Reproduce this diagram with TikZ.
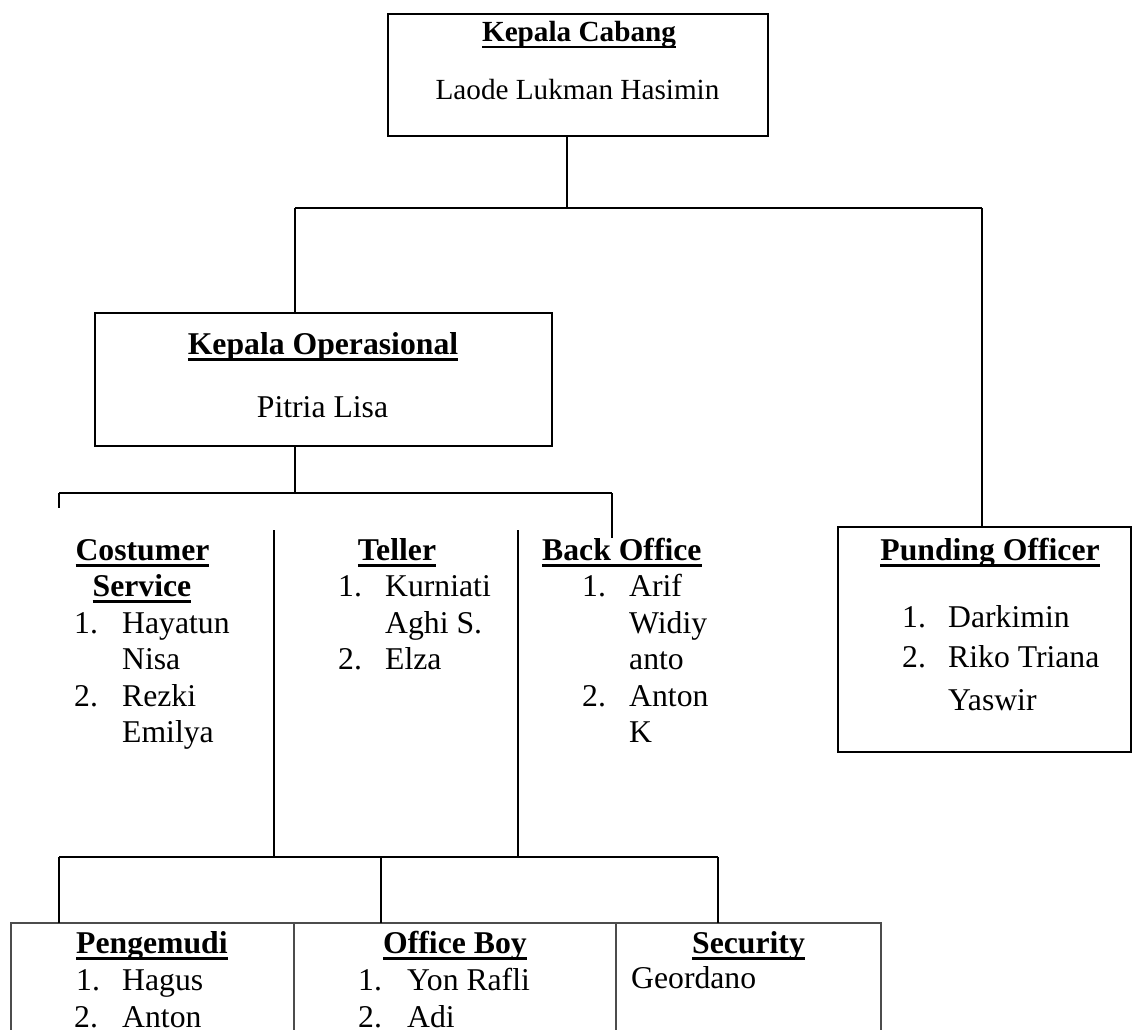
\documentclass[tikz,border=0pt]{standalone}
\usepackage{fontspec}
\setmainfont{Liberation Serif}
\newsavebox\ulbox
\newcommand\ulbf[1]{\sbox\ulbox{\bfseries #1}\rlap{\rule[-6.5pt]{\wd\ulbox}{2.4pt}}\usebox\ulbox}
\newcommand\fbig{\fontsize{31.7}{36}\selectfont}
\newcommand\ftop{\fontsize{29.2}{34}\selectfont}
\begin{document}
\begin{tikzpicture}[x=1pt,y=-1pt,
  box/.style={draw=black,line width=1.6pt,inner sep=0,rectangle},
  conn/.style={draw=black,line width=1.8pt},
  tbl/.style={draw=black!70,line width=1.2pt},
  ttl/.style={inner sep=0,anchor=base,font=\fbig},
  tw/.style={inner sep=0,anchor=base west,font=\fbig},
  tt/.style={inner sep=0,anchor=base,font=\ftop}]
\useasboundingbox (0,0) rectangle (1133,1030);
% boxes
\node[box,minimum width=380pt,minimum height=122pt] (kc) at (578,75) {};
\node[box,minimum width=457pt,minimum height=133pt] (ko) at (323.5,379.5) {};
\node[box,minimum width=293pt,minimum height=225pt] (po) at (984.5,639.5) {};
% top box texts
\node[tt] (kct) at (579,42) {\ulbf{Kepala Cabang}};
\node[tt] (kcn) at (577.5,100) {Laode Lukman Hasimin};
\node[ttl] (kot) at (323,354) {\ulbf{Kepala Operasional}};
\node[ttl] (kon) at (322.5,417) {Pitria Lisa};
% Punding Officer
\node[ttl] (pot) at (990,560) {\ulbf{Punding Officer}};
\node[tw] (po1) at (902,627) {1.};
\node[tw] (po1n) at (948,627) {Darkimin};
\node[tw] (po2) at (902,667) {2.};
\node[tw] (po2n) at (948,667) {Riko Triana};
\node[tw] (po2m) at (948,710) {Yaswir};
% Costumer Service
\node[ttl] (cst) at (142.5,560) {\ulbf{Costumer}};
\node[ttl] (cst2) at (142,596) {\ulbf{Service}};
\node[tw] (cs1) at (74,633) {1.};
\node[tw] (cs1n) at (122,633) {Hayatun};
\node[tw] (cs1m) at (122,669) {Nisa};
\node[tw] (cs2) at (74,706) {2.};
\node[tw] (cs2n) at (122,706) {Rezki};
\node[tw] (cs2m) at (122,742) {Emilya};
% Teller
\node[ttl] (tlt) at (397,560) {\ulbf{Teller}};
\node[tw] (tl1) at (338,596) {1.};
\node[tw] (tl1n) at (385,596) {Kurniati};
\node[tw] (tl1m) at (385,633) {Aghi S.};
\node[tw] (tl2) at (338,669) {2.};
\node[tw] (tl2n) at (385,669) {Elza};
% Back Office
\node[tw] (bot) at (542,560) {\ulbf{Back Office}};
\node[tw] (bo1) at (582,596) {1.};
\node[tw] (bo1n) at (629,596) {Arif};
\node[tw] (bo1m) at (629,633) {Widiy};
\node[tw] (bo1k) at (629,669) {anto};
\node[tw] (bo2) at (582,706) {2.};
\node[tw] (bo2n) at (629,706) {Anton};
\node[tw] (bo2m) at (629,742) {K};
% bottom table
\node[tw] (pgt) at (76,953) {\ulbf{Pengemudi}};
\node[tw] (pg1) at (76,990) {1.};
\node[tw] (pg1n) at (122,990) {Hagus};
\node[tw] (pg2) at (74,1027) {2.};
\node[tw] (pg2n) at (122,1027) {Anton};
\node[tw] (obt) at (383,953) {\ulbf{Office Boy}};
\node[tw] (ob1) at (358,990) {1.};
\node[tw] (ob1n) at (407,990) {Yon Rafli};
\node[tw] (ob2) at (358,1027) {2.};
\node[tw] (ob2n) at (407,1027) {Adi};
\node[tw] (sct) at (692,953) {\ulbf{Security}};
\node[tw] (scn) at (631,988) {Geordano};
% table frame
\coordinate (tl) at (11,923);
\coordinate (tr) at (881,923);
\coordinate (d1) at (294,923);
\coordinate (d2) at (616,923);
\draw[tbl] (11,1031) -- (tl) -- (tr) -- (881,1031);
\draw[tbl] (d1) -- (294,1031);
\draw[tbl] (d2) -- (616,1031);
% connectors
\coordinate (j0) at (567,208);
\coordinate (jl) at (295,208);
\coordinate (jr) at (982,208);
\draw[conn] (j0 |- kc.south) -- (j0);
\draw[conn] (jl) -- (jr);
\draw[conn] (jl) -- (jl |- ko.north);
\draw[conn] (jr) -- (jr |- po.north);
\coordinate (k0) at (295,493);
\coordinate (kl) at (59,493);
\coordinate (kr) at (612,493);
\coordinate (klend) at (59,508);
\coordinate (krend) at (612,538);
\draw[conn] (k0 |- ko.south) -- (k0);
\draw[conn] (kl) -- (kr);
\draw[conn] (kl) -- (klend);
\draw[conn] (kr) -- (krend);
% dividers
\coordinate (v1t) at (274,530);
\coordinate (v2t) at (518,530);
\coordinate (m1) at (274,857);
\coordinate (m2) at (518,857);
\draw[conn] (v1t) -- (m1);
\draw[conn] (v2t) -- (m2);
\coordinate (ml) at (59,857);
\coordinate (mc) at (381,857);
\coordinate (mr) at (718,857);
\draw[conn] (ml) -- (mr);
\draw[conn] (ml) -- (ml |- tl);
\draw[conn] (mc) -- (mc |- tl);
\draw[conn] (mr) -- (mr |- tl);
\end{tikzpicture}
\end{document}
